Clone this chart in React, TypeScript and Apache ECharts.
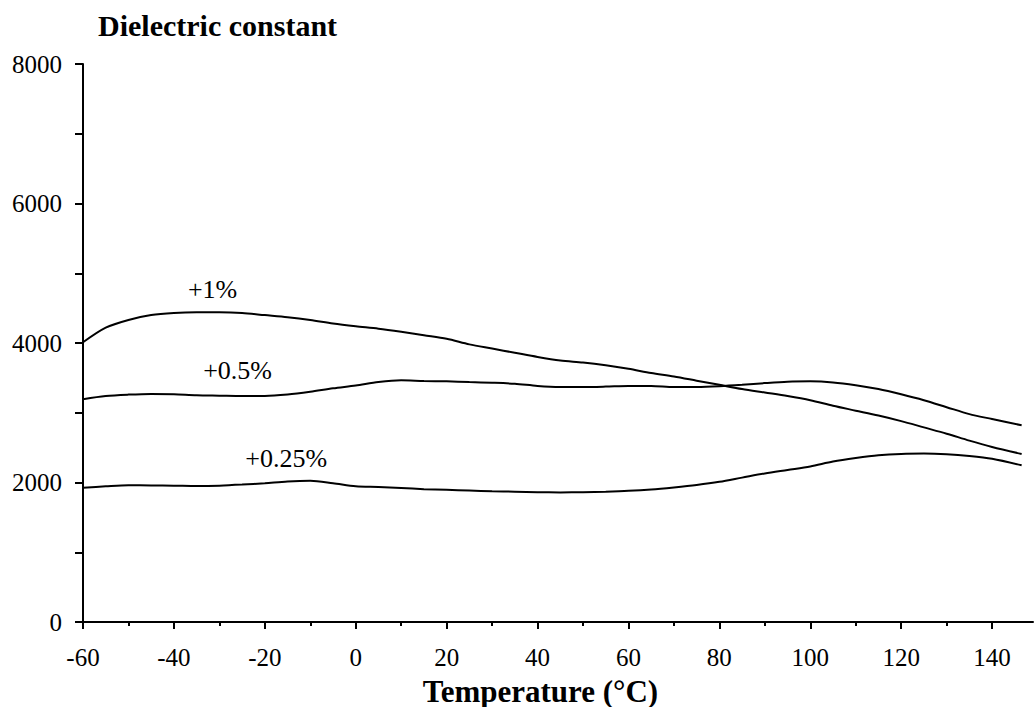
import React, { useEffect, useRef } from "react";
import * as echarts from "echarts";

const temps = [-60, -55, -50, -45, -40, -35, -30, -25, -20, -15, -10, -5, 0, 5, 10, 15, 20, 25, 30, 35, 40, 45, 50, 55, 60, 65, 70, 75, 80, 85, 90, 95, 100, 105, 110, 115, 120, 125, 130, 135, 140, 146.5];

const s1pct = [4010, 4220, 4330, 4400, 4430, 4440, 4440, 4430, 4400, 4370, 4330, 4280, 4240, 4205, 4160, 4110, 4060, 3980, 3920, 3860, 3800, 3750, 3720, 3680, 3630, 3570, 3520, 3460, 3400, 3340, 3290, 3240, 3180, 3100, 3030, 2960, 2880, 2790, 2700, 2600, 2510, 2409];

const s05pct = [3195, 3240, 3260, 3270, 3265, 3250, 3245, 3240, 3240, 3260, 3300, 3350, 3390, 3440, 3465, 3455, 3450, 3440, 3430, 3415, 3385, 3370, 3369, 3375, 3385, 3385, 3370, 3370, 3380, 3400, 3425, 3445, 3450, 3435, 3395, 3340, 3265, 3180, 3080, 2980, 2910, 2820];

const s025pct = [1925, 1945, 1960, 1958, 1955, 1950, 1955, 1970, 1990, 2015, 2025, 1990, 1945, 1935, 1920, 1905, 1895, 1885, 1875, 1868, 1860, 1858, 1860, 1868, 1880, 1900, 1930, 1965, 2010, 2070, 2130, 2180, 2230, 2300, 2350, 2390, 2410, 2415, 2405, 2380, 2340, 2247];

const seriesNames = ["+1%", "+0.5%", "+0.25%"];
const labelCoords: [number, number][] = [[-31.5, 4760], [-26.0, 3599], [-15.3, 2337]];

const xMajorTicks = [-60, -40, -20, 0, 20, 40, 60, 80, 100, 120, 140];
const xMinorTicks = [-50, -30, -10, 10, 30, 50, 70, 90, 110, 130];

const FONT = '"Liberation Serif", "Times New Roman", serif';

export default function App() {
  const ref = useRef<HTMLDivElement>(null);
  useEffect(() => {
    if (!ref.current) return;
    const chart = echarts.init(ref.current, undefined, { renderer: "svg" });
    const allSeries = [s1pct, s05pct, s025pct];
    chart.setOption({
      animation: false,
      backgroundColor: "#ffffff",
      textStyle: { fontFamily: FONT, color: "#000" },
      grid: { left: 83, top: 64, width: 950, height: 558, containLabel: false },
      graphic: [
        {
          type: "text",
          style: {
            text: "Dielectric constant",
            x: 98,
            y: 25,
            font: `bold 30px ${FONT}`,
            fill: "#000",
            align: "left",
            verticalAlign: "middle",
          },
        },
        {
          type: "text",
          style: {
            text: "Temperature (°C)",
            x: 540.5,
            y: 691,
            font: `bold 31px ${FONT}`,
            fill: "#000",
            align: "center",
            verticalAlign: "middle",
          },
        },
      ],
      xAxis: [
        {
          type: "value",
          min: -60,
          max: 149,
          position: "bottom",
          splitLine: { show: false },
          axisLine: { show: true, onZero: false, lineStyle: { color: "#000", width: 2 } },
          axisTick: { show: true, customValues: xMajorTicks, length: 7, lineStyle: { color: "#000", width: 2 } },
          axisLabel: {
            customValues: xMajorTicks,
            margin: 25,
            fontSize: 25,
            lineHeight: 20,
            fontFamily: FONT,
            color: "#000",
          },
        },
        {
          type: "value",
          min: -60,
          max: 149,
          position: "bottom",
          splitLine: { show: false },
          axisLine: { show: false, onZero: false },
          axisTick: { show: true, customValues: xMinorTicks, length: 4, lineStyle: { color: "#000", width: 2 } },
          axisLabel: { show: false },
        },
      ],
      yAxis: {
        type: "value",
        min: 0,
        max: 8000,
        interval: 1000,
        splitLine: { show: false },
        axisLine: { show: true, onZero: false, lineStyle: { color: "#000", width: 2 } },
        axisTick: { show: true, length: 8, lineStyle: { color: "#000", width: 2 } },
        axisLabel: {
          margin: 21,
          fontSize: 25,
          fontFamily: FONT,
          color: "#000",
          formatter: (v: number) => (v % 2000 === 0 ? String(v) : ""),
        },
      },
      series: allSeries.map((vals, i) => ({
        name: seriesNames[i],
        type: "line",
        xAxisIndex: 0,
        data: temps.map((t, j) => [t, vals[j]]),
        smooth: 0.3,
        showSymbol: false,
        symbol: "none",
        lineStyle: { color: "#000", width: 2 },
        markPoint: {
          symbol: "circle",
          symbolSize: 1,
          itemStyle: { color: "rgba(0,0,0,0)" },
          label: {
            show: true,
            position: "inside",
            formatter: seriesNames[i],
            fontSize: 26,
            fontFamily: FONT,
            color: "#000",
          },
          data: [{ coord: labelCoords[i] }],
        },
      })),
    });
    return () => chart.dispose();
  }, []);
  return (
    <div
      ref={ref}
      style={{ position: "fixed", left: 0, top: 0, width: 1034, height: 707, background: "#fff" }}
    />
  );
}
